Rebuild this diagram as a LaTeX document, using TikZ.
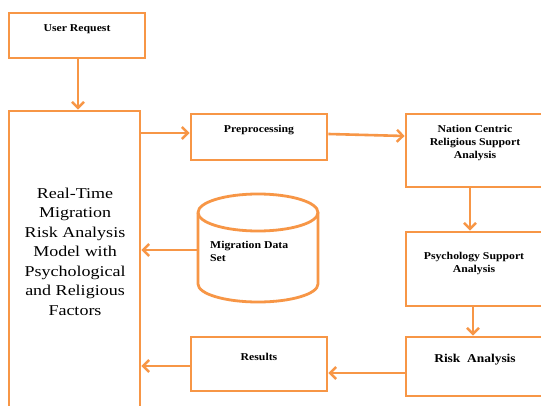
\documentclass[tikz,border=0pt]{standalone}
\usepackage{fontspec}
\setmainfont{Liberation Serif}
\newfontfamily\lblfont[FakeStretch=1.12]{Liberation Serif}
\newfontfamily\bigfont[FakeStretch=1.2]{Liberation Serif}
\usetikzlibrary{arrows.meta}
\definecolor{orng}{HTML}{F79646}
\tikzset{
  box/.style={draw=orng, line width=2.8pt, rectangle, inner sep=0pt},
  arr/.style={draw=orng, line width=2.6pt, -{Straight Barb[length=6pt,width=12pt,line width=2.4pt]}},
  lbl/.style={font=\lblfont\fontsize{10.5}{13}\selectfont\bfseries, align=center, inner sep=0pt},
  biglbl/.style={font=\bigfont\fontsize{15}{19.5}\selectfont, align=center, inner sep=0pt}
}
\begin{document}
\begin{tikzpicture}[x=1pt,y=-1pt]
\useasboundingbox (0,0) rectangle (541,406);
\clip (0,0) rectangle (541,406);
\fill[white] (0,0) rectangle (541,406);
% boxes
\node[box, minimum width=136pt, minimum height=45pt] (ur) at (77,35.5) {};
\node[box, minimum width=131pt, minimum height=320pt] (big) at (74.5,271) {};
\node[box, minimum width=136pt, minimum height=46pt] (pre) at (259,137) {};
\node[box, minimum width=160pt, minimum height=73pt] (nat) at (486,150.5) {};
\node[box, minimum width=160pt, minimum height=74pt] (psy) at (486,269) {};
\node[box, minimum width=160pt, minimum height=59pt] (risk) at (486,366.5) {};
\node[box, minimum width=136pt, minimum height=54pt] (res) at (259,364) {};
% cylinder
\coordinate (cyl) at (258,248);
\draw[orng, line width=2.8pt] (198,212.5) arc[start angle=180, end angle=-180, x radius=60, y radius=-18.5];
\draw[orng, line width=2.8pt] (198,212.5) -- (198,284) arc[start angle=180, end angle=360, x radius=60, y radius=-18] -- (318,212.5);
% texts
\node[lbl] (urt) at (77,29) {User Request};
\node[biglbl] (bigt) at (75,251.5) {Real-Time\\Migration\\Risk Analysis\\Model with\\Psychological\\and Religious\\Factors};
\node[lbl] (pret) at (259,130) {Preprocessing};
\node[lbl] (natt) at (475,143) {Nation Centric\\Religious Support\\Analysis};
\node[lbl] (psyt) at (474,263.5) {Psychology Support\\Analysis};
\node[lbl, font=\lblfont\fontsize{12}{14}\selectfont\bfseries] (riskt) at (475,360) {Risk~~Analysis};
\node[lbl] (rest) at (259,357) {Results};
\node[lbl, align=left, anchor=west] (cylt) at (210,251) {Migration Data\\Set};
% arrows
\draw[arr] (ur.south -| 78,0) -- (big.north -| 78,0);
\draw[arr] (big.east |- 0,133) -- (pre.west |- 0,133);
\draw[arr] ([yshift=3pt]pre.east) -- ([yshift=14.5pt]nat.west);
\draw[arr] (nat.south -| 470,0) -- (psy.north -| 470,0);
\draw[arr] (psy.south -| 473,0) -- (risk.north -| 473,0);
\draw[arr] (risk.west |- 0,373) -- (res.east |- 0,373);
\draw[arr] (res.west |- 0,366) -- (big.east |- 0,366);
\draw[arr] (198,250) -- (big.east |- 0,250);
\end{tikzpicture}
\end{document}
